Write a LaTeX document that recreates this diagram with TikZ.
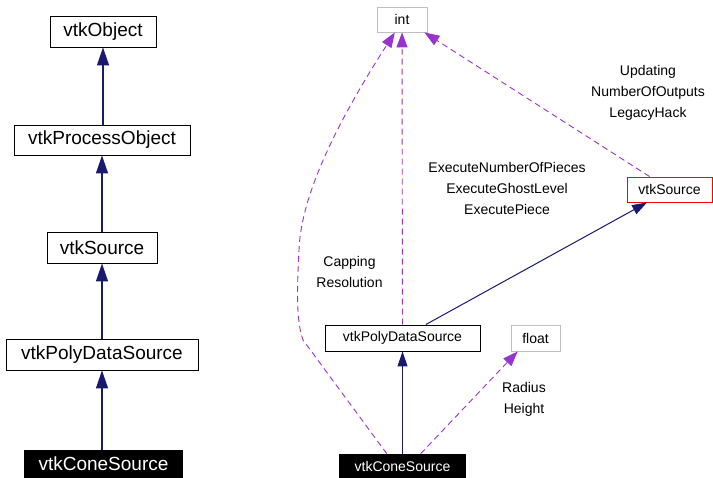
\documentclass[tikz,border=0pt]{standalone}
\usepackage{fontspec}
\setmainfont{Liberation Sans}
\usetikzlibrary{arrows.meta}
\definecolor{navy}{HTML}{191970}
\definecolor{vio}{HTML}{9A32CD}
\definecolor{grayb}{HTML}{BFBFBF}
\definecolor{redb}{HTML}{FF0000}
\begin{document}
\begin{tikzpicture}[x=1pt,y=-1pt,
  lbox/.style={draw=black, line width=0.9pt, inner sep=0pt, font=\fontsize{19}{19}\selectfont},
  lcone/.style={fill=black, text=white, inner sep=0pt, font=\fontsize{19}{19}\selectfont},
  rbox/.style={draw=black, line width=0.9pt, inner sep=0pt, font=\fontsize{14}{14}\selectfont},
  rgray/.style={rbox, draw=grayb},
  rred/.style={rbox, draw=redb},
  rcone/.style={fill=black, text=white, inner sep=0pt, font=\fontsize{14}{14}\selectfont},
  lab/.style={align=center, inner sep=0pt, font=\fontsize{14}{21}\selectfont},
  ledge/.style={draw=navy, line width=1.3pt, -{Triangle[length=18pt,width=12pt]}},
  redge/.style={draw=navy, line width=1pt, -{Triangle[length=15pt,width=10pt]}},
  dedge/.style={draw=vio, line width=0.9pt, dash pattern=on 6pt off 4pt, -{Triangle[length=15pt,width=11pt]}}]
\useasboundingbox (0,0) rectangle (713,478);
% left
\node[lbox, minimum width=106pt, minimum height=31pt] (objL) at (103,31.5) {vtkObject};
\node[lbox, minimum width=176pt, minimum height=30pt] (procL) at (102,140) {vtkProcessObject};
\node[lbox, minimum width=110pt, minimum height=31pt] (srcL) at (102,247.5) {vtkSource};
\node[lbox, minimum width=192pt, minimum height=31pt] (polyL) at (102,354.5) {vtkPolyDataSource};
\node[lcone, minimum width=159pt, minimum height=28pt] (coneL) at (103.5,464) {vtkConeSource};
\draw[ledge] (procL.north -| objL) -- (objL);
\draw[ledge] (srcL.north -| procL) -- (procL);
\draw[ledge] (polyL.north -| srcL) -- (srcL);
\draw[ledge] (coneL.north -| polyL) -- (polyL);
% right
\node[rgray, minimum width=50pt, minimum height=25pt] (intR) at (402,19.5) {int};
\node[rred, minimum width=85pt, minimum height=25pt] (srcR) at (669.5,189.5) {vtkSource};
\node[rbox, minimum width=155pt, minimum height=26pt] (polyR) at (402.5,338) {vtkPolyDataSource};
\node[rgray, minimum width=49pt, minimum height=26pt] (floatR) at (535.5,338) {float};
\node[rcone, minimum width=127pt, minimum height=24pt] (coneR) at (402.5,466) {vtkConeSource};
\draw[redge] (coneR) -- (polyR);
\draw[redge] (polyR.30) -- (srcR.210);
\draw[dedge] (srcR.147) -- (intR.330);
\draw[dedge] (polyR) -- (intR);
\draw[dedge] (coneR.34) -- (floatR.217);
\draw[dedge] (coneR.142) -- (303,340) .. controls (296,320) and (297,290) .. (299,250)
  .. controls (301,190) and (345,110) .. (intR.241);
\node[lab] (l1) at (648,93) {Updating\\NumberOfOutputs\\LegacyHack};
\node[lab] (l2) at (507,188) {ExecuteNumberOfPieces\\ExecuteGhostLevel\\ExecutePiece};
\node[lab] (l3) at (349.5,271.5) {Capping\\Resolution};
\node[lab] (l4) at (524,399.5) {Radius\\Height};
\end{tikzpicture}
\end{document}
